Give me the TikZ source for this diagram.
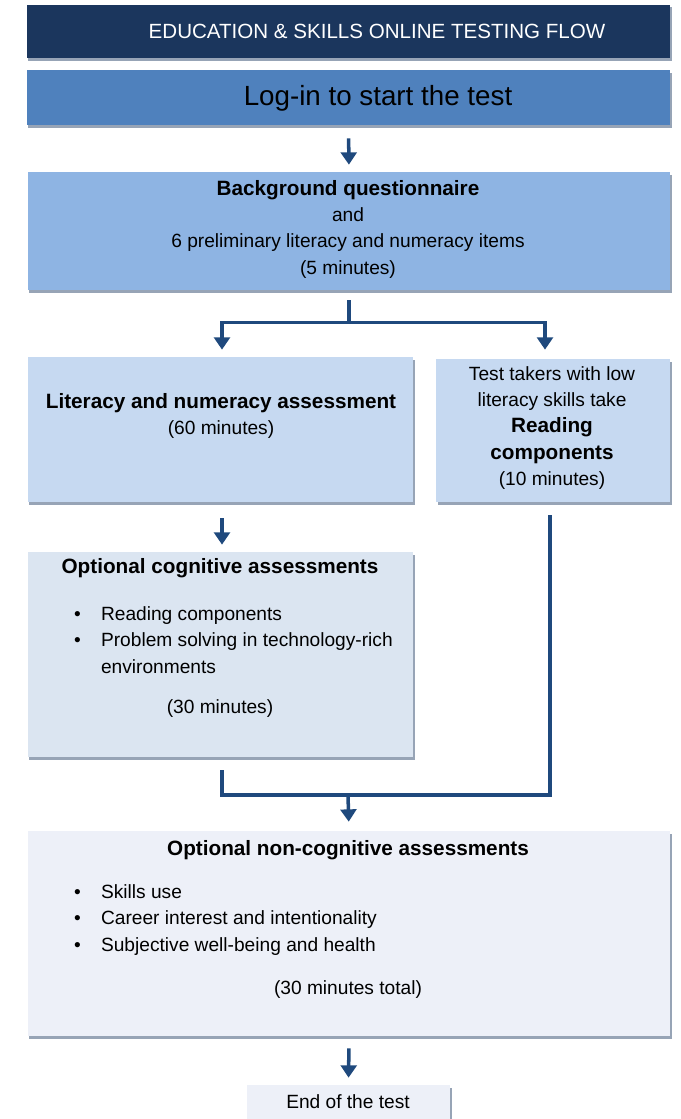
\documentclass[tikz,border=0pt]{standalone}
\usepackage{fontspec}
\setmainfont{Liberation Sans}
\usepackage{xcolor}
\usetikzlibrary{positioning}
\usetikzlibrary{fit}
\usetikzlibrary{shadows}
\usetikzlibrary{arrows.meta}
\definecolor{navy}{HTML}{1B365D}
\definecolor{loginblue}{HTML}{4F81BD}
\definecolor{bgqblue}{HTML}{8EB4E3}
\definecolor{litblue}{HTML}{C6D9F1}
\definecolor{cogblue}{HTML}{DBE5F1}
\definecolor{noncogblue}{HTML}{EDF0F8}
\definecolor{flowblue}{HTML}{1F497D}
\definecolor{shadowgray}{HTML}{97A4B6}
\newcommand\bul{\makebox[15.3pt][l]{\textbullet}}
\newcommand\ttl[1]{{\fontsize{11.8}{15}\selectfont\textbf{#1}}}
\tikzset{
  box/.style={inner sep=0, draw=none,
    drop shadow={shadow xshift=0.03cm, shadow yshift=-0.05cm, fill=shadowgray, opacity=1}},
  txt/.style={align=center, font=\fontsize{10.9}{15}\selectfont},
  line/.style={draw=flowblue, line width=2pt},
  flow/.style={line, -{Triangle[width=9pt,length=7pt]}}
}

\begin{document}
\begin{tikzpicture}[x=0.02cm, y=-0.02cm]
	\useasboundingbox (0,0) rectangle (680,1119);
	% boxes
	\node[box, fill=navy, fit={(27,5) (670,58)}] (head) {};
	\node[box, fill=loginblue, fit={(27,70) (670,125)}] (login) {};
	\node[box, fill=bgqblue, fit={(28,172) (670,290)}] (bgq) {};
	\node[box, fill=litblue, fit={(28,357) (413,502)}] (lit) {};
	\node[box, fill=litblue, fit={(436,359) (670,502)}] (read) {};
	\node[box, fill=cogblue, fit={(28,552) (413,757)}] (cog) {};
	\node[box, fill=noncogblue, fit={(28,831) (670,1036)}] (noncog) {};
	\node[box, fill=noncogblue, fit={(247,1085) (450,1130)}] (end) {};
	% texts
	\node[txt, text=white, font=\fontsize{11.7}{14}\selectfont] (headtxt) at (377,31) {EDUCATION \& SKILLS ONLINE TESTING FLOW};
	\node[txt, font=\fontsize{15.8}{18}\selectfont] (logintxt) at (378,98) {Log-in to start the test};
	\node[txt] (bgqtxt) at (348,229) {\ttl{Background questionnaire}\\and\\6 preliminary literacy and numeracy items\\(5 minutes)};
	\node[txt] (littxt) at (221,416) {\ttl{Literacy and numeracy assessment}\\(60 minutes)};
	\node[txt] (readtxt) at (552,428) {Test takers with low\\literacy skills take\\\ttl{Reading}\\\ttl{components}\\(10 minutes)};
	\node[txt] (cogtitle) at (220,568) {\ttl{Optional cognitive assessments}};
	\node[txt, align=left, anchor=west] (coglist) at (68,640) {\bul Reading components\\\bul Problem solving in technology-rich\\\hphantom{\bul}environments};
	\node[txt] (cogtime) at (220,709) {(30 minutes)};
	\node[txt] (noncogtitle) at (348,850) {\ttl{Optional non-cognitive assessments}};
	\node[txt, align=left, anchor=west] (noncoglist) at (68,920) {\bul Skills use\\\bul Career interest and intentionality\\\bul Subjective well-being and health};
	\node[txt] (noncogtime) at (348,990) {(30 minutes total)};
	\node[txt] (endtxt) at (348,1102) {End of the test};
	% connectors
	\draw[flow, shorten <=0.26cm, shorten >=0.14cm] (login.south) -- (bgq.north);
	\draw[line, shorten <=0.2cm] (bgq.south) -- ++(0,32) coordinate (split);
	\draw[flow, shorten >=0.14cm] (split) -| ([xshift=0.03cm]lit.north);
	\draw[flow, shorten >=0.18cm] (split) -| ([xshift=-0.16cm]read.north);
	\draw[flow, shorten <=0.32cm, shorten >=0.14cm] ([xshift=0.03cm]lit.south) -- ([xshift=0.03cm]cog.north);
	\coordinate (merge) at (348,795);
	\draw[line, shorten <=0.26cm] ([xshift=0.03cm]cog.south) |- (merge);
	\draw[line, shorten <=0.26cm] ([xshift=-0.06cm]read.south) |- (merge);
	\draw[flow, shorten >=0.18cm] (merge) -- (noncog.north);
	\draw[flow, shorten <=0.24cm, shorten >=0.14cm] (noncog.south) -- (end.north);
\end{tikzpicture}
\end{document}
